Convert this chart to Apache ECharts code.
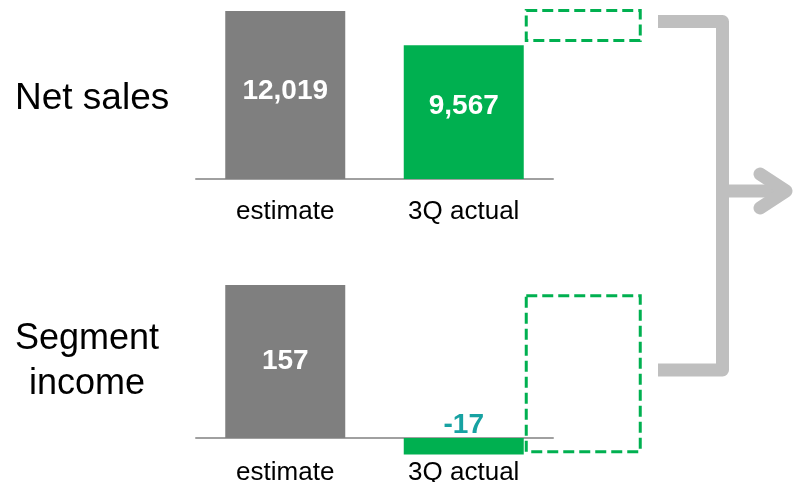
<!DOCTYPE html>
<html>
<head>
<meta charset="utf-8">
<script src="https://cdn.jsdelivr.net/npm/echarts@6/dist/echarts.min.js"></script>
<style>
  html, body { margin: 0; padding: 0; background: #fff; overflow: hidden; }
  /* taller than the view so the lower axis labels keep their full box */
  #chart { width: 794px; height: 560px; }
</style>
</head>
<body>
<div id="chart"></div>
<script>
// ---- data ----
const categories = ['estimate', '3Q actual'];
const panelTitles = ['Net sales', 'Segment\nincome'];
const netSales = [12019, 9567];
const segmentIncome = [157, -17];
// remaining portion shown as a dashed box next to the actual bar: [low, high]
const netSalesRemaining = [9900, 12050];
const segmentIncomeRemaining = [-14, 146];

// ---- style ----
const FONT = '"Liberation Sans", Arial, Helvetica, sans-serif';
const BAR_COLORS = ['#7f7f7f', '#00b050'];
const GREEN = '#00b050';
const TEAL = '#17a2a2';
const ARROW_GRAY = '#bfbfbf';
const BAR_WIDTH = 120;

const fmt = v => v.toLocaleString('en-US');

function barItems(values, dy) {
  return values.map((v, i) => {
    const item = { value: v, itemStyle: { color: BAR_COLORS[i] } };
    if (v < 0) {
      item.label = { position: 'top', distance: -1, color: TEAL, offset: [0, 0] };
    } else {
      item.label = { offset: [0, dy[i]] };
    }
    return item;
  });
}

function dashedBox(params, api) {
  const lo = api.coord([api.value(0), api.value(1)]);
  const hi = api.coord([api.value(0), api.value(2)]);
  return {
    type: 'rect',
    shape: { x: lo[0] + BAR_WIDTH / 2 + 2.5, y: hi[1], width: 114, height: lo[1] - hi[1] },
    style: { fill: 'none', stroke: GREEN, lineWidth: 3, lineDash: [11, 5] }
  };
}

// the zero line is the bottom edge of each grid; negative bars hang below it
function xAxisFor(gridIndex, margin) {
  return {
    type: 'category',
    gridIndex,
    data: categories,
    axisTick: { show: false },
    axisLine: { onZero: false, lineStyle: { color: '#a0a0a0', width: 2 } },
    axisLabel: { interval: 0, margin, fontSize: 26, color: '#000', fontFamily: FONT },
    splitLine: { show: false }
  };
}

const barLabel = {
  show: true,
  position: 'inside',
  formatter: p => fmt(p.value),
  color: '#fff',
  fontSize: 28,
  fontWeight: 'bold',
  fontFamily: FONT
};

const chart = echarts.init(document.getElementById('chart'), null, { renderer: 'canvas' });

chart.setOption({
  animation: false,
  backgroundColor: '#fff',
  grid: [
    { left: 196, width: 357, top: 0, height: 179, containLabel: false },
    { left: 196, width: 357, top: 282, height: 156, containLabel: false }
  ],
  xAxis: [xAxisFor(0, 20), xAxisFor(1, 22)],
  yAxis: [
    { type: 'value', gridIndex: 0, min: 0, max: 12800, show: false },
    { type: 'value', gridIndex: 1, min: 0, max: 160, show: false }
  ],
  series: [
    {
      name: 'Net sales',
      type: 'bar',
      xAxisIndex: 0, yAxisIndex: 0,
      barWidth: BAR_WIDTH,
      clip: false,
      data: barItems(netSales, [-4, -6]),
      label: barLabel
    },
    {
      name: 'Net sales remaining',
      type: 'custom',
      xAxisIndex: 0, yAxisIndex: 0,
      renderItem: dashedBox,
      encode: { x: 0, y: [1, 2] },
      data: [[1, netSalesRemaining[0], netSalesRemaining[1]]],
      clip: false,
      z: 3
    },
    {
      name: 'Segment income',
      type: 'bar',
      xAxisIndex: 1, yAxisIndex: 1,
      barWidth: BAR_WIDTH,
      clip: false,
      data: barItems(segmentIncome, [0, 0]),
      label: barLabel
    },
    {
      name: 'Segment income remaining',
      type: 'custom',
      xAxisIndex: 1, yAxisIndex: 1,
      renderItem: dashedBox,
      encode: { x: 0, y: [1, 2] },
      data: [[1, segmentIncomeRemaining[0], segmentIncomeRemaining[1]]],
      clip: false,
      z: 3
    }
  ],
  graphic: [
    {
      type: 'text', x: 15, y: 99,
      style: { text: panelTitles[0], font: '37px ' + FONT, fill: '#000', align: 'left', verticalAlign: 'middle' }
    },
    {
      type: 'text', x: 87, y: 362,
      style: { text: panelTitles[1], font: '36px ' + FONT, fill: '#000', align: 'center', verticalAlign: 'middle', lineHeight: 45 }
    },
    // bracket gathering both panels
    {
      type: 'polyline',
      shape: { points: [[658, 21.5], [722.5, 21.5], [722.5, 370], [658, 370]] },
      style: { stroke: ARROW_GRAY, lineWidth: 13, lineJoin: 'round', lineCap: 'butt', fill: null }
    },
    {
      type: 'line',
      shape: { x1: 722.5, y1: 191, x2: 784, y2: 191 },
      style: { stroke: ARROW_GRAY, lineWidth: 13, lineCap: 'butt' }
    },
    {
      type: 'polyline',
      shape: { points: [[760, 174], [786, 191], [760, 208]] },
      style: { stroke: ARROW_GRAY, lineWidth: 13, lineJoin: 'round', lineCap: 'round', fill: null }
    }
  ]
});
</script>
</body>
</html>
